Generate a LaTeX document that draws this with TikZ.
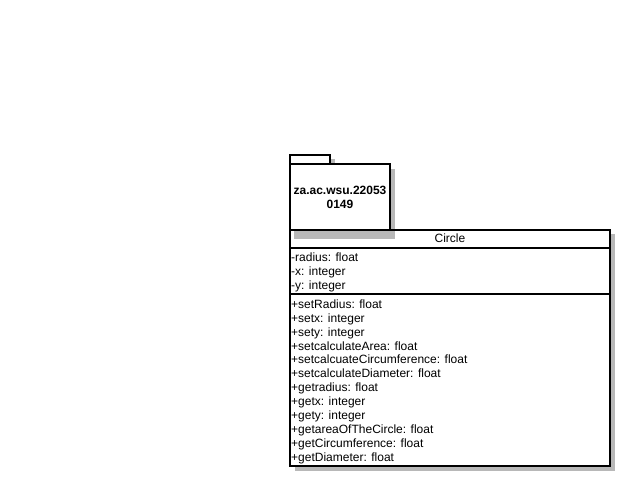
\documentclass[tikz,border=0pt]{standalone}
\usepackage{fontspec}
\setmainfont{Liberation Sans}
\begin{document}
\begin{tikzpicture}[x=1pt,y=-1pt,
  shadowfill/.style={fill=black!28,draw=none},
  boxline/.style={draw=black,line width=2pt},
  member/.style={anchor=base west,inner sep=0pt,font=\fontsize{12}{14}\selectfont},
  pkgtext/.style={anchor=base,inner sep=0pt,font=\fontsize{12}{14}\selectfont\bfseries}]
\useasboundingbox (0,0) rectangle (632,488);
% class shadow and fill
\fill[shadowfill] (295,234) rectangle (615,471);
\fill[white] (290,229.5) rectangle (610,466);
% package shadow
\fill[shadowfill] (294,159) rectangle (335,164);
\fill[shadowfill] (294,169) rectangle (395,239);
% package
\draw[boxline,fill=white] (290,155) rectangle (330,164);
\draw[boxline,fill=white] (290,164) rectangle (390,229.5);
% class
\draw[boxline] (290,229.5) rectangle (610,466);
\draw[boxline] (290,247.5) -- (610,247.5);
\draw[boxline] (290,294) -- (610,294);
% texts
\node[pkgtext] (p1) at (340,194.3) {za.ac.wsu.22053};
\node[pkgtext] (p2) at (340,208.3) {0149};
\node[anchor=base,inner sep=0pt,font=\fontsize{12}{14}\selectfont] (cn) at (450,242.7) {Circle};
\node[member] (a1) at (291,261) {-radius: float};
\node[member] (a2) at (291,275) {-x: integer};
\node[member] (a3) at (291,289) {-y: integer};
\foreach \t [count=\i from 0] in {+setRadius: float,+setx: integer,+sety: integer,+setcalculateArea: float,+setcalcuateCircumference: float,+setcalculateDiameter: float,+getradius: float,+getx: integer,+gety: integer,+getareaOfTheCircle: float,+getCircumference: float,+getDiameter: float}
  \node[member] (m\i) at (291,308.3+13.9*\i) {\t};
\end{tikzpicture}
\end{document}
